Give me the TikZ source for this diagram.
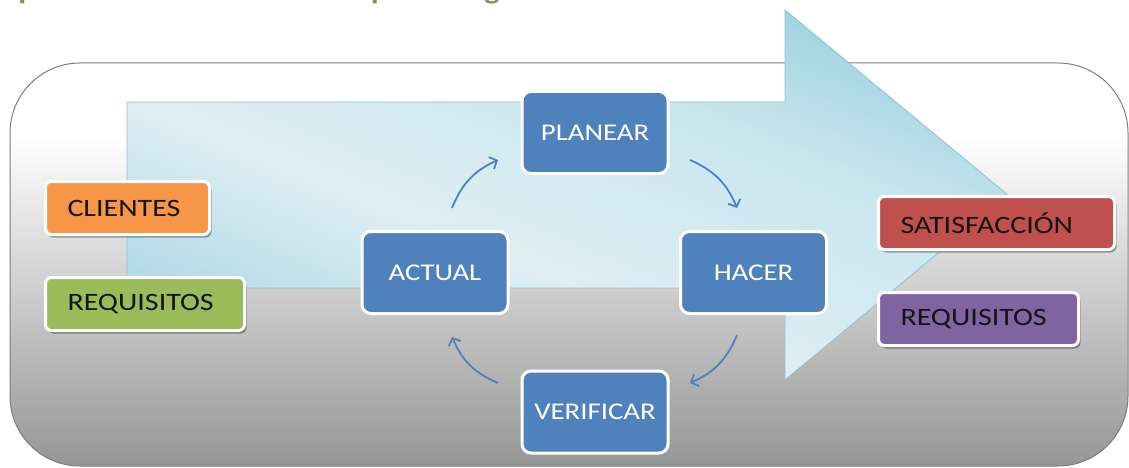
\documentclass[tikz,border=0pt]{standalone}
\usepackage{fontspec}
\setmainfont{Carlito}[FakeStretch=1.2]
\usetikzlibrary{shadows,arrows.meta,calc}
\definecolor{bgdark}{RGB}{150,150,150}
\definecolor{bgline}{RGB}{125,125,125}
\definecolor{arrdarkA}{RGB}{172,216,229}
\definecolor{arrlight}{RGB}{222,238,243}
\definecolor{arrmid}{RGB}{200,230,238}
\definecolor{arrdarkB}{RGB}{160,210,225}
\definecolor{arrline}{RGB}{140,195,210}
\definecolor{blueb}{RGB}{79,129,189}
\definecolor{orangeb}{RGB}{247,150,70}
\definecolor{greenb}{RGB}{155,187,89}
\definecolor{redb}{RGB}{192,80,77}
\definecolor{purpleb}{RGB}{128,100,162}
\definecolor{sidetext}{RGB}{20,20,20}
\definecolor{headcol}{RGB}{148,138,84}
\pgfdeclareverticalshading{bgsh}{100bp}{color(0bp)=(bgdark); color(25bp)=(bgdark); color(66bp)=(white); color(100bp)=(white)}
\pgfdeclareverticalshading{arrsh}{100bp}{color(0bp)=(arrdarkA); color(25bp)=(arrdarkA); color(42bp)=(arrlight); color(62bp)=(arrmid); color(75bp)=(arrdarkB); color(100bp)=(arrdarkB)}
\tikzset{
  sidebox/.style={font=\fontsize{25}{29}\selectfont, rounded corners=6pt, draw=white, line width=3pt,
    text=sidetext, minimum height=53pt, inner xsep=22pt, inner ysep=0pt, align=left,
    drop shadow={shadow xshift=2pt, shadow yshift=-3pt, fill=black, opacity=0.35}},
  cyclebox/.style={font=\fontsize{24}{28}\selectfont, rounded corners=9pt, draw=white, line width=3pt, fill=blueb,
    text=white, minimum width=146pt, minimum height=82pt, inner sep=0pt,
    drop shadow={shadow xshift=1pt, shadow yshift=-1pt, fill=black, opacity=0.15}},
  cyclearrow/.style={draw=blueb, line width=1.8pt, -{Straight Barb[length=6pt,width=13pt]}, bend left=22}
}
\begin{document}
\begin{tikzpicture}[x=1pt,y=-1pt]
\useasboundingbox (0,0) rectangle (1129,468);
% header (cut off at top in the reference)
\begin{scope}
\clip (0,0) rectangle (1129,468);
\node[anchor=base west, inner sep=0pt, text=headcol, font=\fontsize{27}{31}\selectfont\bfseries] (header) at (-20,-0.5) {Esquema Caracterización del proceso gestión de la calidad};
\end{scope}
% background panel
\path[shading=bgsh, draw=bgline, line width=1pt, rounded corners=70pt] (10,63) rectangle (1128,466);
% big arrow
\path[shading=arrsh, shading angle=-22.5, draw=arrline, line width=0.8pt]
  (127,102) -- (785,102) -- (785,10) -- (1008,195) -- (785,380) -- (785,288) -- (127,288) -- cycle;
% side boxes
\node[sidebox, fill=orangeb, text width=120pt] (clientes) at (127.5,208) {CLIENTES};
\node[sidebox, fill=greenb, text width=155pt] (reqin) at (145,304) {REQUISITOS};
\node[sidebox, fill=redb, text width=192pt] (satis) at (996.5,223) {SATISFACCIÓN};
\node[sidebox, fill=purpleb, text width=156pt] (reqout) at (978.5,319) {REQUISITOS};
% cycle boxes
\node[cyclebox] (planear) at (595,132.5) {PLANEAR};
\node[cyclebox] (hacer) at (753.5,272.5) {HACER};
\node[cyclebox] (actual) at (435,272.5) {ACTUAL};
\node[cyclebox] (verificar) at (595,412) {VERIFICAR};
% cycle arrows
\coordinate (a1) at (452,208);
\coordinate (a2) at (498,160);
\coordinate (a3) at (690,160);
\coordinate (a4) at (737,208);
\coordinate (a5) at (737,335);
\coordinate (a6) at (690,383);
\coordinate (a7) at (498,383);
\coordinate (a8) at (452,337);
\draw[cyclearrow] (a1) to (a2);
\draw[cyclearrow] (a3) to (a4);
\draw[cyclearrow] (a5) to (a6);
\draw[cyclearrow] (a7) to (a8);
\end{tikzpicture}
\end{document}
